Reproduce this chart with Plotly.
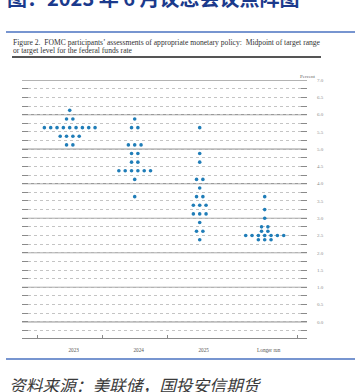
import plotly.graph_objects as go

# ---- data (June 2023 FOMC dot plot) ----
categories = ["2023", "2024", "2025", "Longer run"]

rates_2023 = [6.125, 5.875, 5.625, 5.375, 5.125]
counts_2023 = [1, 2, 9, 4, 2]

rates_2024 = [5.875, 5.625, 5.125, 4.875, 4.625, 4.375, 4.125, 3.625]
counts_2024 = [1, 2, 3, 2, 2, 6, 1, 1]

rates_2025 = [5.625, 4.875, 4.625, 4.125, 3.875, 3.625, 3.375, 3.125, 2.875, 2.625, 2.375]
counts_2025 = [1, 1, 1, 2, 1, 2, 3, 3, 1, 2, 1]

rates_lr = [3.625, 3.25, 3.0, 2.75, 2.625, 2.5, 2.375]
counts_lr = [1, 1, 1, 2, 2, 7, 3]

y_tick_vals = [i * 0.5 for i in range(15)]
y_tick_text = ["%.1f" % v for v in y_tick_vals]
whole_percent_lines = list(range(8))

title_text = "图：2023 年 6 月议息会议点阵图"
caption_1 = "Figure 2.  FOMC participants’ assessments of appropriate monetary policy:  Midpoint of target range"
caption_2 = "or target level for the federal funds rate"
source_text = "资料来源：美联储，国投安信期货"

series = [(rates_2023, counts_2023), (rates_2024, counts_2024),
          (rates_2025, counts_2025), (rates_lr, counts_lr)]

DOT_STEP = 0.0975
DOT_COLOR = "#1f7db8"
SERIF = "Liberation Serif"
TICK_C = "#8a8a8a"

fig = go.Figure()
for ci, (rates, counts) in enumerate(series):
    xs, ys = [], []
    for r, n in zip(rates, counts):
        for k in range(n):
            xs.append(ci + (k - (n - 1) / 2) * DOT_STEP)
            ys.append(r)
    fig.add_trace(go.Scatter(
        x=xs, y=ys, mode="markers", name=categories[ci],
        marker=dict(size=3.6, color=DOT_COLOR, line=dict(width=0)),
        showlegend=False, hoverinfo="y",
    ))

W, H = 355, 392
L, R, T, B = 22, 48, 80, 54
PW, PH = W - L - R, H - T - B


def px_x(p):
    return (p - L) / PW


def px_y(p):
    return (H - B - p) / PH


XR = [-0.734, -0.734 + PW / 65.0]
YR = [-0.47, 7.005]

shapes = [
    dict(type="line", xref="paper", yref="paper", x0=px_x(6), x1=px_x(360),
         y0=px_y(32), y1=px_y(32), line=dict(color="#4a72c0", width=1.3)),
    dict(type="line", xref="paper", yref="paper", x0=px_x(12), x1=px_x(321),
         y0=px_y(57), y1=px_y(57), line=dict(color="#555", width=1.8)),
    dict(type="line", xref="paper", yref="paper", x0=px_x(6), x1=px_x(360),
         y0=px_y(359), y1=px_y(359), line=dict(color="#4a72c0", width=1.3)),
]
for v in whole_percent_lines:
    shapes.append(dict(type="line", xref="paper", yref="y", x0=0, x1=1, y0=v, y1=v,
                       layer="between", line=dict(color="#9a9a9a", width=1.2)))

fig.update_layout(
    width=W, height=H,
    margin=dict(l=L, r=R, t=T, b=B, autoexpand=False),
    paper_bgcolor="white", plot_bgcolor="white",
    xaxis=dict(
        range=XR, tickmode="array", tickvals=[0, 1, 2, 3], ticktext=categories,
        ticks="", showgrid=False, zeroline=False, automargin=False,
        showline=True, linecolor=TICK_C, linewidth=1,
        tickfont=dict(family=SERIF, size=5.2, color="#555"),
        ticklabelshift=4, ticklabelstandoff=7,
        minor=dict(tickmode="array", tickvals=[-0.5, 0.5, 1.5, 3.5], ticks="inside",
                   ticklen=3, tickcolor=TICK_C, tickwidth=1, showgrid=False),
    ),
    xaxis2=dict(
        range=XR, overlaying="x", anchor="y", side="bottom", automargin=False,
        tickmode="array", tickvals=[2.5], showticklabels=False, ticks="",
        showgrid=True, gridcolor="#333", gridwidth=1.6, griddash="dot",
        zeroline=False, showline=False,
        minor=dict(tickmode="array", tickvals=[XR[0] + 0.006, XR[1] - 0.006], ticks="inside",
                   ticklen=6, tickcolor=TICK_C, tickwidth=1, showgrid=False),
    ),
    yaxis=dict(
        range=YR, side="right", automargin=False,
        tickmode="array", tickvals=y_tick_vals, ticktext=y_tick_text,
        ticks="inside", ticklen=6, tickcolor=TICK_C, tickwidth=1, mirror="ticks",
        tickfont=dict(family=SERIF, size=5, color="#8a8a8a"),
        ticklabelstandoff=9,
        showgrid=True, gridcolor="#c4c4c4", gridwidth=1, griddash="dot",
        zeroline=False, showline=False,
        minor=dict(tickmode="linear", tick0=0, dtick=0.25, ticks="inside", ticklen=6,
                   tickcolor=TICK_C, tickwidth=1,
                   showgrid=True, gridcolor="#c4c4c4", gridwidth=1, griddash="dot"),
    ),
    shapes=shapes,
    annotations=[
        dict(text="<b>" + title_text + "</b>", xref="paper", yref="paper",
             x=px_x(5), y=px_y(-3), xanchor="left", yanchor="middle", showarrow=False,
             font=dict(family="Noto Sans CJK SC", size=20, color="#1b3a8c")),
        dict(text=caption_1, xref="paper", yref="paper",
             x=px_x(11), y=px_y(42.7), xanchor="left", yanchor="middle", showarrow=False,
             font=dict(family=SERIF, size=7.6, color="#333")),
        dict(text=caption_2, xref="paper", yref="paper",
             x=px_x(11), y=px_y(50.7), xanchor="left", yanchor="middle", showarrow=False,
             font=dict(family=SERIF, size=7.6, color="#333")),
        dict(text="Percent", xref="paper", yref="paper",
             x=px_x(307.5), y=px_y(76), xanchor="center", yanchor="middle", showarrow=False,
             font=dict(family=SERIF, size=5, color="#666")),
        dict(text="<i>" + source_text + "</i>", xref="paper", yref="paper",
             x=px_x(7), y=px_y(385), xanchor="left", yanchor="middle", showarrow=False,
             font=dict(family="Noto Sans CJK SC", size=16.7, color="#3a3a3a")),
    ],
)

fig.write_html("out.html", config={"displayModeBar": False},
               post_script="document.body.style.margin='0';")
